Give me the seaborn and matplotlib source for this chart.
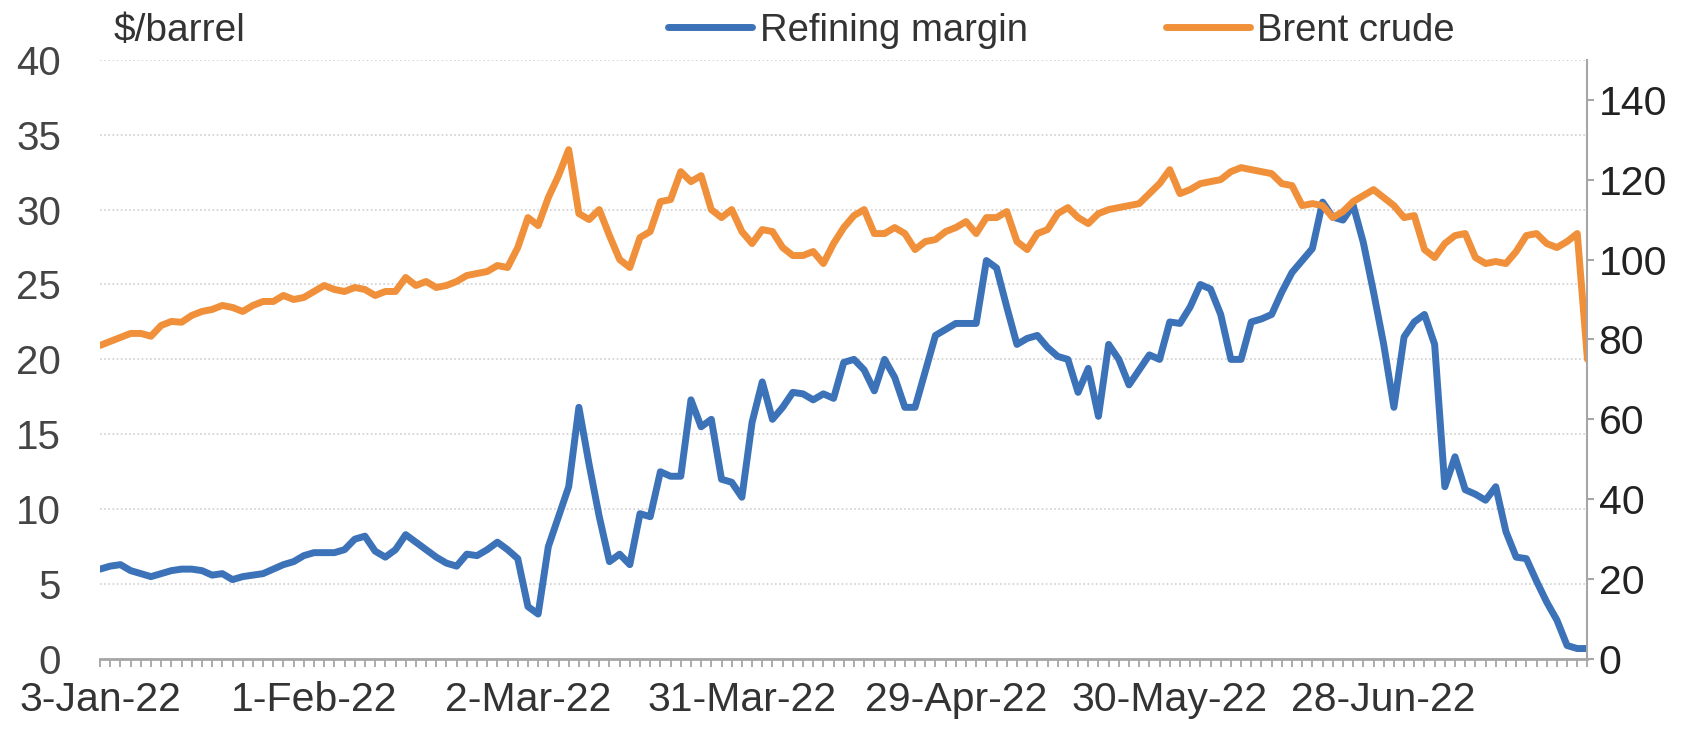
import numpy as np
import pandas as pd
import matplotlib
matplotlib.use("Agg")
import matplotlib.pyplot as plt
import seaborn as sns

# ---------------------------------------------------------------------------
# Data (business days from 3-Jan-22)
# ---------------------------------------------------------------------------
refining_margin = [
    6.0, 6.2, 6.3, 5.9, 5.7, 5.5, 5.7, 5.9, 6.0, 6.0,
    5.9, 5.6, 5.7, 5.3, 5.5, 5.6, 5.7, 6.0, 6.3, 6.5,
    6.9, 7.1, 7.1, 7.1, 7.3, 8.0, 8.2, 7.2, 6.8, 7.3,
    8.3, 7.8, 7.3, 6.8, 6.4, 6.2, 7.0, 6.9, 7.3, 7.8,
    7.3, 6.7, 3.5, 3.0, 7.5, 9.5, 11.5, 16.8, 13.0, 9.5,
    6.5, 7.0, 6.3, 9.7, 9.5, 12.5, 12.2, 12.2, 17.3, 15.5,
    16.0, 12.0, 11.8, 10.8, 15.8, 18.5, 16.0, 16.8, 17.8, 17.7,
    17.3, 17.7, 17.4, 19.8, 20.0, 19.3, 17.9, 20.0, 18.8, 16.8,
    16.8, 19.2, 21.6, 22.0, 22.4, 22.4, 22.4, 26.6, 26.1, 23.5,
    21.0, 21.4, 21.6, 20.8, 20.2, 20.0, 17.8, 19.4, 16.2, 21.0,
    20.0, 18.3, 19.3, 20.3, 20.0, 22.5, 22.4, 23.5, 25.0, 24.7,
    23.0, 20.0, 20.0, 22.5, 22.7, 23.0, 24.5, 25.8, 26.6, 27.4,
    30.5, 29.5, 29.3, 30.3, 27.8, 24.5, 21.0, 16.8, 21.5, 22.5,
    23.0, 21.0, 11.5, 13.5, 11.3, 11.0, 10.6, 11.5, 8.5, 6.8,
    6.7, 5.2, 3.8, 2.6, 0.9, 0.7, 0.7,
]

brent_crude = [
    78.5, 79.5, 80.5, 81.5, 81.5, 80.8, 83.5, 84.5, 84.3, 86.0,
    87.0, 87.5, 88.5, 88.0, 87.0, 88.5, 89.5, 89.5, 91.0, 90.0,
    90.5, 92.0, 93.5, 92.5, 92.0, 93.0, 92.5, 91.0, 92.0, 92.0,
    95.5, 93.5, 94.5, 93.0, 93.5, 94.5, 96.0, 96.5, 97.0, 98.5,
    98.0, 103.0, 110.5, 108.5, 115.5, 121.0, 127.5, 111.5, 110.0, 112.5,
    106.0, 100.0, 98.0, 105.5, 107.0, 114.5, 115.0, 122.0, 119.5, 121.0,
    112.5, 110.5, 112.5, 107.0, 104.0, 107.5, 107.0, 103.0, 101.0, 101.0,
    102.0, 99.0, 104.0, 108.0, 111.0, 112.5, 106.5, 106.5, 108.0, 106.5,
    102.5, 104.5, 105.0, 107.0, 108.0, 109.5, 106.5, 110.5, 110.5, 112.0,
    104.5, 102.5, 106.5, 107.5, 111.5, 113.0, 110.5, 109.0, 111.5, 112.5,
    113.0, 113.5, 114.0, 116.5, 119.0, 122.5, 116.5, 117.5, 119.0, 119.5,
    120.0, 122.0, 123.0, 122.5, 122.0, 121.5, 119.0, 118.5, 113.5, 114.0,
    113.5, 110.5, 112.0, 114.5, 116.0, 117.5, 115.5, 113.5, 110.5, 111.0,
    102.5, 100.5, 104.0, 106.0, 106.5, 100.5, 99.0, 99.5, 99.0, 102.0,
    106.0, 106.5, 104.0, 103.0, 104.5, 106.5, 75.0,
]

dates = pd.bdate_range("2022-01-03", periods=len(refining_margin))
label_step = 21

left_ticks = [0, 5, 10, 15, 20, 25, 30, 35, 40]
right_ticks = [0, 20, 40, 60, 80, 100, 120, 140]

BLUE = "#3c72b8"
ORANGE = "#f0903a"
TEXT = "#333333"
AXIS = "#a6a6a6"

df = pd.DataFrame({
    "idx": np.arange(len(dates)),
    "Refining margin": refining_margin,
    "Brent crude": brent_crude,
})

# ---------------------------------------------------------------------------
# Plot
# ---------------------------------------------------------------------------
sns.set_theme(style="white")
plt.rcParams["font.family"] = ["Liberation Sans", "DejaVu Sans"]

fig = plt.figure(figsize=(16.96, 7.29), dpi=100)
ax = fig.add_axes([0.059, 0.096, 0.877, 0.822])
ax2 = ax.twinx()

sns.lineplot(data=df, x="idx", y="Refining margin", ax=ax, color=BLUE,
             lw=5, label="Refining margin", legend=False)
sns.lineplot(data=df, x="idx", y="Brent crude", ax=ax2, color=ORANGE,
             lw=5, label="Brent crude", legend=False)

n = len(dates)
ax.set_xlim(0, n - 1)
ax.set_ylim(0, 40)
ax2.set_ylim(0, 150)

ax.set_yticks(left_ticks)
ax2.set_yticks(right_ticks)
ax.yaxis.grid(True, color="#d0d0d0", ls=(0, (1, 1.5)), lw=1.2)
ax.set_axisbelow(True)

major = list(range(0, n, label_step))
ax.set_xticks(major)
ax.set_xticklabels([f"{d.day}-{d.strftime('%b-%y')}" for d in dates[major]])
ax.set_xticks(range(n), minor=True)

for a in (ax, ax2):
    a.set_xlabel("")
    a.set_ylabel("")
    for s in a.spines.values():
        s.set_visible(False)

ax.spines["bottom"].set_visible(True)
ax.spines["bottom"].set_color(AXIS)
ax.spines["bottom"].set_linewidth(2)
ax2.spines["right"].set_visible(True)
ax2.spines["right"].set_color(AXIS)
ax2.spines["right"].set_linewidth(1.5)

ax.tick_params(axis="x", which="both", bottom=True, direction="out",
               length=6, width=1.3, color=AXIS, labelsize=29.5,
               labelcolor=TEXT, pad=10)
ax.tick_params(axis="y", left=False, labelsize=29, labelcolor="#444444", pad=22)
ax2.tick_params(axis="y", right=True, direction="out", length=5, width=1.5,
                color=AXIS, labelsize=29.5, labelcolor="#222222", pad=3)

fig.text(0.067, 0.957, "$/barrel", fontsize=28, color=TEXT, va="center")

handles = ax.get_lines()[:1] + ax2.get_lines()[:1]
fig.legend(handles, ["Refining margin", "Brent crude"], loc="center",
           bbox_to_anchor=(0.626, 0.958), ncol=2, frameon=False,
           fontsize=27.5, handlelength=2.2, handletextpad=0.2,
           columnspacing=3.6, labelcolor=TEXT)

fig.savefig("out.png", dpi=100)
